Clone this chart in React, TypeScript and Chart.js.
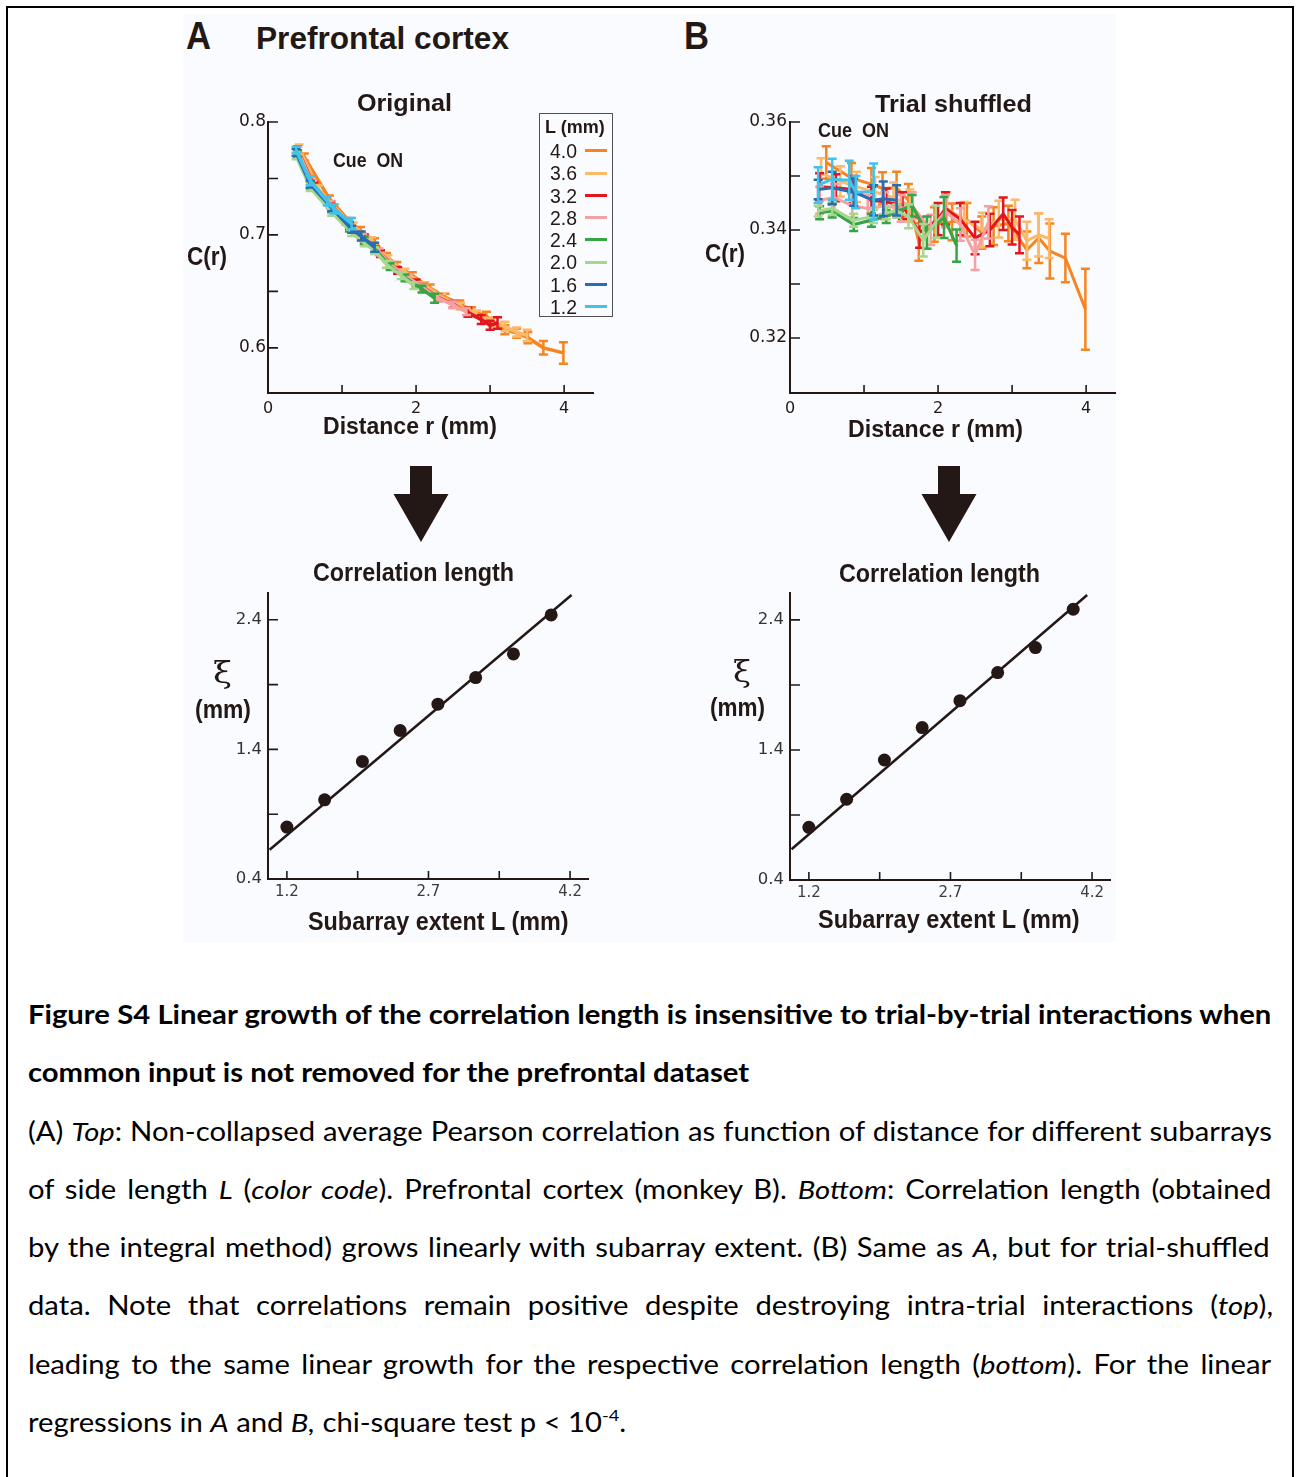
import React, { useEffect, useRef } from 'react';
import { Chart, registerables } from 'chart.js';

Chart.register(...registerables);

const INK = '#231815';
const TITLE_FONT = "'Liberation Sans Narrow', 'Liberation Sans', Arial, sans-serif";
const TICK_FONT = "'DejaVu Sans', 'Liberation Sans', sans-serif";
const CAPTION_FONT = "Lato, 'Open Sans', sans-serif";

// ---------- Top panels: C(r) vs distance r, one series per subarray extent L ----------
const subarrayLabels = ['4.0', '3.6', '3.2', '2.8', '2.4', '2.0', '1.6', '1.2'];
const subarrayColors = ['#f6841f', '#fbb96c', '#e3161d', '#f4a1a1', '#34a643', '#a8d68c', '#2a6cb2', '#3fc3ea'];

// distances r (mm) for each L
const rL40 = [0.49, 0.83, 1.1, 1.25, 1.44, 1.6, 1.74, 1.95, 2.19, 2.39, 2.59, 2.75, 2.95, 3.2, 3.36, 3.51, 3.72, 3.99];
const rL36 = [0.42, 0.68, 0.9, 1.15, 1.4, 1.62, 1.85, 2.12, 2.35, 2.6, 2.82, 3.04, 3.2, 3.36, 3.5];
const rL32 = [0.4, 0.62, 0.85, 1.1, 1.3, 1.52, 1.75, 2.0, 2.1, 2.3, 2.5, 2.7, 2.88, 3.0, 3.1];
const rL28 = [0.4, 0.6, 0.84, 1.05, 1.28, 1.5, 1.65, 1.9, 2.1, 2.3, 2.5, 2.68];
const rL24 = [0.4, 0.57, 0.86, 1.1, 1.3, 1.45, 1.65, 1.85, 2.08, 2.25];
const rL20 = [0.38, 0.57, 0.86, 1.13, 1.3, 1.44, 1.6, 1.8, 1.97];
const rL16 = [0.38, 0.57, 0.86, 1.13, 1.26, 1.44];
const rL12 = [0.38, 0.57, 0.8, 0.89, 1.13];

// Original data: C(r) and error
const cOrig40 = [0.769, 0.732, 0.712, 0.704, 0.694, 0.681, 0.673, 0.664, 0.653, 0.645, 0.639, 0.633, 0.628, 0.616, 0.613, 0.609, 0.600, 0.5955];
const eOrig40 = [0.003, 0.003, 0.003, 0.003, 0.003, 0.003, 0.003, 0.003, 0.003, 0.003, 0.003, 0.003, 0.004, 0.004, 0.004, 0.005, 0.006, 0.0095];
const cOrig36 = [0.776, 0.741, 0.724, 0.708, 0.695, 0.679, 0.667, 0.655, 0.645, 0.637, 0.630, 0.623, 0.619, 0.614, 0.611];
const eOrig36 = [0.004, 0.003, 0.003, 0.003, 0.003, 0.003, 0.003, 0.003, 0.003, 0.003, 0.003, 0.004, 0.004, 0.004, 0.005];
const cOrig32 = [0.7755, 0.7435, 0.7265, 0.7085, 0.6975, 0.6835, 0.6685, 0.6575, 0.6535, 0.6445, 0.6385, 0.6315, 0.625, 0.620, 0.622];
const eOrig32 = [0.003, 0.003, 0.003, 0.003, 0.003, 0.003, 0.003, 0.003, 0.003, 0.003, 0.003, 0.004, 0.004, 0.004, 0.005];
const cOrig28 = [0.775, 0.745, 0.727, 0.712, 0.698, 0.685, 0.674, 0.662, 0.653, 0.644, 0.638, 0.632];
const eOrig28 = [0.003, 0.003, 0.003, 0.003, 0.003, 0.003, 0.003, 0.003, 0.003, 0.003, 0.003, 0.003];
const cOrig24 = [0.772, 0.744, 0.723, 0.706, 0.695, 0.687, 0.672, 0.662, 0.652, 0.644];
const eOrig24 = [0.003, 0.003, 0.003, 0.003, 0.003, 0.003, 0.003, 0.003, 0.003, 0.004];
const cOrig20 = [0.770, 0.742, 0.720, 0.702, 0.693, 0.686, 0.674, 0.664, 0.655];
const eOrig20 = [0.003, 0.003, 0.003, 0.003, 0.003, 0.003, 0.003, 0.003, 0.003];
const cOrig16 = [0.773, 0.745, 0.724, 0.705, 0.699, 0.689];
const eOrig16 = [0.003, 0.003, 0.003, 0.003, 0.004, 0.004];
const cOrig12 = [0.775, 0.748, 0.730, 0.723, 0.710];
const eOrig12 = [0.003, 0.004, 0.004, 0.004, 0.005];

// Trial-shuffled data: C(r) and error
const cShuf40 = [0.3525, 0.3496, 0.3485, 0.3477, 0.3478, 0.3455, 0.3378, 0.3410, 0.3415, 0.3419, 0.3395, 0.3407, 0.3412, 0.3363, 0.3385, 0.3361, 0.3348, 0.3253];
const eShuf40 = [0.0030, 0.0028, 0.0030, 0.0030, 0.0030, 0.0030, 0.0035, 0.0032, 0.0034, 0.0031, 0.0030, 0.0035, 0.0033, 0.0034, 0.0046, 0.0051, 0.0045, 0.0075];
const cShuf36 = [0.3505, 0.3490, 0.3480, 0.3470, 0.3460, 0.3445, 0.3395, 0.3440, 0.3420, 0.3400, 0.3420, 0.3419, 0.3380, 0.3391, 0.3384];
const eShuf36 = [0.0028, 0.0028, 0.0028, 0.0028, 0.0028, 0.0030, 0.0030, 0.0030, 0.0032, 0.0032, 0.0034, 0.0037, 0.0035, 0.0040, 0.0036];
const cShuf32 = [0.3480, 0.3478, 0.3475, 0.3455, 0.3452, 0.3445, 0.3395, 0.3420, 0.3440, 0.3420, 0.3385, 0.3400, 0.3430, 0.3405, 0.3391];
const eShuf32 = [0.0025, 0.0025, 0.0025, 0.0025, 0.0025, 0.0025, 0.0028, 0.0030, 0.0030, 0.0030, 0.0030, 0.0030, 0.0030, 0.0032, 0.0034];
const cShuf28 = [0.3455, 0.3460, 0.3445, 0.3440, 0.3445, 0.3440, 0.3445, 0.3400, 0.3435, 0.3410, 0.3354, 0.3414];
const eShuf28 = [0.0025, 0.0025, 0.0025, 0.0025, 0.0025, 0.0025, 0.0025, 0.0028, 0.0030, 0.0030, 0.0028, 0.0030];
const cShuf24 = [0.3432, 0.3435, 0.3410, 0.3418, 0.3425, 0.3435, 0.3445, 0.3395, 0.3423, 0.3371];
const eShuf24 = [0.0012, 0.0012, 0.0012, 0.0012, 0.0012, 0.0012, 0.0020, 0.0030, 0.0038, 0.0030];
const cShuf20 = [0.3435, 0.3440, 0.3418, 0.3425, 0.3432, 0.3435, 0.3425, 0.3381, 0.3415];
const eShuf20 = [0.0010, 0.0012, 0.0012, 0.0012, 0.0012, 0.0012, 0.0022, 0.0030, 0.0030];
const cShuf16 = [0.3475, 0.3478, 0.3470, 0.3455, 0.3458, 0.3455];
const eShuf16 = [0.0018, 0.0030, 0.0025, 0.0028, 0.0032, 0.0028];
const cShuf12 = [0.3483, 0.3494, 0.3492, 0.3470, 0.3471];
const eShuf12 = [0.0033, 0.0038, 0.0036, 0.0030, 0.0052];

const distances = [rL40, rL36, rL32, rL28, rL24, rL20, rL16, rL12];
const origValues = [cOrig40, cOrig36, cOrig32, cOrig28, cOrig24, cOrig20, cOrig16, cOrig12];
const origErrors = [eOrig40, eOrig36, eOrig32, eOrig28, eOrig24, eOrig20, eOrig16, eOrig12];
const shufValues = [cShuf40, cShuf36, cShuf32, cShuf28, cShuf24, cShuf20, cShuf16, cShuf12];
const shufErrors = [eShuf40, eShuf36, eShuf32, eShuf28, eShuf24, eShuf20, eShuf16, eShuf12];

const xTicksTop = [0, 1, 2, 3, 4];
const xLabelsTop = ['0', '', '2', '', '4'];
const yTicksOrig = [0.6, 0.65, 0.7, 0.75, 0.8];
const yLabelsOrig = ['0.6', '', '0.7', '', '0.8'];
const yTicksShuf = [0.32, 0.33, 0.34, 0.35, 0.36];
const yLabelsShuf = ['0.32', '', '0.34', '', '0.36'];

// ---------- Bottom panels: correlation length xi vs subarray extent L ----------
const extentL = [1.2, 1.6, 2.0, 2.4, 2.8, 3.2, 3.6, 4.0];
const xiOrig = [0.801, 1.011, 1.307, 1.546, 1.749, 1.954, 2.137, 2.438];
const xiShuf = [0.805, 1.021, 1.323, 1.572, 1.779, 1.995, 2.187, 2.482];
const fitOrigL = [1.017, 4.216];
const fitOrigXi = [0.626, 2.592];
const fitShufL = [1.016, 4.148];
const fitShufXi = [0.636, 2.592];
const xTicksBottom = [1.2, 1.95, 2.7, 3.45, 4.2];
const xLabelsBottom = ['1.2', '', '2.7', '', '4.2'];
const yTicksBottom = [0.4, 0.9, 1.4, 1.9, 2.4];
const yLabelsBottom = ['0.4', '', '1.4', '', '2.4'];

// ---------- plugins ----------
const inwardTicks = (xLen: number, yLen: number) => ({
  id: 'inwardTicks',
  beforeDatasetsDraw(chart: any) {
    const { ctx, chartArea } = chart;
    const xs = chart.scales.x;
    const ys = chart.scales.y;
    ctx.save();
    ctx.strokeStyle = INK;
    ctx.lineWidth = 1.6;
    ctx.beginPath();
    xs.ticks.forEach((t: any) => {
      const p = xs.getPixelForValue(t.value);
      if (p - chartArea.left < 2) return;
      ctx.moveTo(p, chartArea.bottom);
      ctx.lineTo(p, chartArea.bottom - xLen);
    });
    ys.ticks.forEach((t: any) => {
      const p = ys.getPixelForValue(t.value);
      if (chartArea.bottom - p < 2) return;
      ctx.moveTo(chartArea.left, p);
      ctx.lineTo(chartArea.left + yLen, p);
    });
    ctx.stroke();
    ctx.restore();
  },
});

const errorBars = (cap: number, width: number) => ({
  id: 'errorBars',
  afterDatasetDraw(chart: any, args: any) {
    const ds = chart.data.datasets[args.index];
    if (!ds.errors) return;
    const { ctx } = chart;
    const xs = chart.scales.x;
    const ys = chart.scales.y;
    ctx.save();
    ctx.strokeStyle = ds.borderColor;
    ctx.lineWidth = width;
    ctx.lineCap = 'butt';
    ctx.beginPath();
    ds.data.forEach((p: any, k: number) => {
      const x = xs.getPixelForValue(p.x);
      const yl = ys.getPixelForValue(p.y - ds.errors[k]);
      const yh = ys.getPixelForValue(p.y + ds.errors[k]);
      ctx.moveTo(x, yl);
      ctx.lineTo(x, yh);
      ctx.moveTo(x - cap, yl);
      ctx.lineTo(x + cap, yl);
      ctx.moveTo(x - cap, yh);
      ctx.lineTo(x + cap, yh);
    });
    ctx.stroke();
    ctx.restore();
  },
});

function axisOpts(min: number, max: number, ticks: number[], labels: string[], fit: (s: any) => void, pad: number, size: number, color: string) {
  return {
    type: 'linear',
    min,
    max,
    grid: { display: false, drawTicks: false },
    border: { display: true, color: INK, width: 2 },
    afterBuildTicks: (s: any) => {
      s.ticks = ticks.map((v) => ({ value: v }));
    },
    afterFit: fit,
    ticks: {
      autoSkip: false,
      maxRotation: 0,
      padding: pad,
      color,
      font: { family: TICK_FONT, size },
      callback: (_v: any, i: number) => labels[i],
    },
  };
}

function topConfig(values: number[][], errors: number[][], yMin: number, yMax: number, yTicks: number[], yLabels: string[], lineW: number, yPad: number) {
  const order = [7, 6, 5, 4, 3, 2, 1, 0]; // L = 1.2 drawn on top
  const datasets = order.map((i) => ({
    label: subarrayLabels[i],
    data: distances[i].map((r, k) => ({ x: r, y: values[i][k] })),
    errors: errors[i],
    borderColor: subarrayColors[i],
    backgroundColor: subarrayColors[i],
    borderWidth: lineW,
    pointRadius: 0,
    tension: 0,
  }));
  return {
    type: 'line',
    data: { datasets },
    options: {
      animation: false,
      responsive: false,
      maintainAspectRatio: false,
      layout: { padding: { top: 22, right: 27, left: 0, bottom: 0 } },
      plugins: { legend: { display: false }, tooltip: { enabled: false } },
      scales: {
        x: axisOpts(0, 4.39, xTicksTop, xLabelsTop, (s: any) => { s.height = 47; }, 6, 16, INK),
        y: axisOpts(yMin, yMax, yTicks, yLabels, (s: any) => { s.width = 78; }, yPad, 17, INK),
      },
    },
    plugins: [inwardTicks(8, 10), errorBars(4.5, 2.5)],
  };
}

function bottomConfig(xi: number[], fitL: number[], fitXi: number[], xH: number) {
  return {
    type: 'line',
    data: {
      datasets: [
        {
          label: 'xi',
          data: extentL.map((l, k) => ({ x: l, y: xi[k] })),
          showLine: false,
          pointRadius: 6.5,
          pointBackgroundColor: INK,
          pointBorderWidth: 0,
          borderColor: INK,
        },
        {
          label: 'fit',
          data: fitL.map((l, k) => ({ x: l, y: fitXi[k] })),
          borderColor: INK,
          borderWidth: 2.5,
          pointRadius: 0,
          tension: 0,
        },
      ],
    },
    options: {
      animation: false,
      responsive: false,
      maintainAspectRatio: false,
      layout: { padding: { top: 18, right: 22, left: 0, bottom: 0 } },
      plugins: { legend: { display: false }, tooltip: { enabled: false } },
      scales: {
        x: axisOpts(1.0, 4.39, xTicksBottom, xLabelsBottom, (s: any) => { s.height = xH; }, 4, 15, '#3c3c3c'),
        y: axisOpts(0.4, 2.607, yTicksBottom, yLabelsBottom, (s: any) => { s.width = 78; }, 6, 16.5, '#333333'),
      },
    },
    plugins: [inwardTicks(8, 10)],
  };
}

// ---------- text helpers ----------
let measureCtx: CanvasRenderingContext2D | null = null;
function textWidth(text: string, font: string) {
  if (!measureCtx) measureCtx = document.createElement('canvas').getContext('2d');
  measureCtx!.font = font;
  return measureCtx!.measureText(text).width;
}

function FitText(props: { text: string; x1: number; x2: number; cy: number; size: number; weight?: string; family?: string; color?: string; k?: number }) {
  const { text, x1, x2, cy, size, weight = 'bold', family = TITLE_FONT, color = INK, k = 0.4885 } = props;
  const w = textWidth(text, `${weight} ${size}px ${family}`);
  const sx = (x2 - x1) / w;
  return (
    <div
      style={{
        position: 'absolute',
        left: x1,
        top: cy - k * size,
        height: size,
        fontFamily: family,
        fontSize: size,
        fontWeight: weight as any,
        lineHeight: `${size}px`,
        whiteSpace: 'pre',
        color,
        transform: `scaleX(${sx})`,
        transformOrigin: '0 50%',
      }}
    >
      {text}
    </div>
  );
}

function Legend() {
  return (
    <>
      <div style={{ position: 'absolute', left: 539, top: 113, width: 74, height: 204, boxSizing: 'border-box', border: '1.5px solid #505050' }} />
      <FitText text="L (mm)" x1={545} x2={605} cy={126.5} size={19} />
      {subarrayLabels.map((lab, i) => (
        <React.Fragment key={lab}>
          <FitText text={lab} x1={550} x2={577} cy={150.7 + i * 22.3} size={20} weight="normal" family="'Liberation Sans', Arial, sans-serif" />
          <div style={{ position: 'absolute', left: 585, top: 150.7 + i * 22.3 - 1.5, width: 22, height: 3, background: subarrayColors[i] }} />
        </React.Fragment>
      ))}
    </>
  );
}

type Seg = { t: string; i?: boolean; sup?: boolean };
const captionLines: { segs: Seg[]; bold: boolean; justify: boolean }[] = [
  { bold: true, justify: true, segs: [{ t: 'Figure S4 Linear growth of the correlation length is insensitive to trial-by-trial interactions when' }] },
  { bold: true, justify: false, segs: [{ t: 'common input is not removed for the prefrontal dataset' }] },
  { bold: false, justify: true, segs: [{ t: '(A) ' }, { t: 'Top', i: true }, { t: ': Non-collapsed average Pearson correlation as function of distance for different subarrays' }] },
  { bold: false, justify: true, segs: [{ t: 'of side length ' }, { t: 'L', i: true }, { t: ' (' }, { t: 'color code', i: true }, { t: '). Prefrontal cortex (monkey B). ' }, { t: 'Bottom', i: true }, { t: ': Correlation length (obtained' }] },
  { bold: false, justify: true, segs: [{ t: 'by the integral method) grows linearly with subarray extent. (B) Same as ' }, { t: 'A', i: true }, { t: ', but for trial-shuffled' }] },
  { bold: false, justify: true, segs: [{ t: 'data. Note that correlations remain positive despite destroying intra-trial interactions (' }, { t: 'top', i: true }, { t: '),' }] },
  { bold: false, justify: true, segs: [{ t: 'leading to the same linear growth for the respective correlation length (' }, { t: 'bottom', i: true }, { t: '). For the linear' }] },
  { bold: false, justify: false, segs: [{ t: 'regressions in ' }, { t: 'A', i: true }, { t: ' and ' }, { t: 'B,', i: true }, { t: ' chi-square test p < 10' }, { t: '-4', sup: true }, { t: '.' }] },
];

const CAP_SIZE = 26;
const CAP_LEFT = 28;
const CAP_WIDTH = 1245;

function segsWidth(segs: Seg[], bold: boolean) {
  let w = 0;
  segs.forEach((s) => {
    const sz = s.sup ? CAP_SIZE * 0.62 : CAP_SIZE;
    w += textWidth(s.t, `${s.i ? 'italic' : 'normal'} ${bold ? 'bold' : 'normal'} ${sz}px ${CAPTION_FONT}`);
  });
  return w;
}

function CaptionLine({ segs, bold, justify, baseline, sx }: { segs: Seg[]; bold: boolean; justify: boolean; baseline: number; sx: number }) {
  const size = CAP_SIZE;
  const w = segsWidth(segs, bold);
  let spaces = 0;
  segs.forEach((s) => { spaces += (s.t.match(/ /g) || []).length; });
  const avail = CAP_WIDTH / sx;
  let ws = 0;
  let scale = sx;
  if (w > avail) scale = CAP_WIDTH / w;
  else if (justify && spaces) ws = (avail - w) / spaces;
  return (
    <div
      style={{
        position: 'absolute',
        left: CAP_LEFT,
        top: baseline - 0.887 * size,
        whiteSpace: 'pre',
        fontFamily: CAPTION_FONT,
        fontSize: size,
        lineHeight: `${size}px`,
        fontWeight: bold ? 700 : 400,
        wordSpacing: ws,
        color: '#000',
        transform: `scaleX(${scale})`,
        transformOrigin: '0 50%',
      }}
    >
      {segs.map((s, k) =>
        s.sup ? (
          <span key={k} style={{ fontSize: size * 0.62, position: 'relative', top: -size * 0.42 }}>{s.t}</span>
        ) : s.i ? (
          <i key={k}>{s.t}</i>
        ) : (
          <span key={k}>{s.t}</span>
        )
      )}
    </div>
  );
}

function arrowPoints(cx: number) {
  const pts = [
    [cx - 11, 466], [cx + 11, 466], [cx + 11, 494], [cx + 27.5, 494],
    [cx, 542], [cx - 27.5, 494], [cx - 11, 494],
  ];
  return pts.map((p) => p.join(',')).join(' ');
}

export default function App() {
  const tl = useRef<HTMLCanvasElement>(null);
  const tr = useRef<HTMLCanvasElement>(null);
  const bl = useRef<HTMLCanvasElement>(null);
  const br = useRef<HTMLCanvasElement>(null);

  useEffect(() => {
    const charts = [
      new Chart(tl.current as any, topConfig(origValues, origErrors, 0.56, 0.8, yTicksOrig, yLabelsOrig, 3.5, 2) as any),
      new Chart(tr.current as any, topConfig(shufValues, shufErrors, 0.3098, 0.36, yTicksShuf, yLabelsShuf, 3, 3) as any),
      new Chart(bl.current as any, bottomConfig(xiOrig, fitOrigL, fitOrigXi, 36) as any),
      new Chart(br.current as any, bottomConfig(xiShuf, fitShufL, fitShufXi, 35) as any),
    ];
    return () => charts.forEach((c) => c.destroy());
  }, []);

  // horizontal scale so that the first (bold, full) caption line fills the text width
  const capScale = (CAP_WIDTH - 2) / segsWidth(captionLines[0].segs, true);

  const canvasStyle = (left: number, top: number, w: number, h: number) => ({ position: 'absolute' as const, left, top, width: w, height: h });

  return (
    <div style={{ position: 'absolute', left: 0, top: 0, width: 1297, height: 1477, overflow: 'hidden', background: '#ffffff' }}>
      <div style={{ position: 'absolute', left: 183, top: 14, width: 933, height: 928, background: '#f9fbfe' }} />
      <div style={{ position: 'absolute', left: 6, top: 6, width: 1288, height: 1540, border: '2.5px solid #000', boxSizing: 'border-box' }} />

      <svg width={1297} height={1477} style={{ position: 'absolute', left: 0, top: 0 }}>
        <polygon points={arrowPoints(421)} fill={INK} />
        <polygon points={arrowPoints(949)} fill={INK} />
      </svg>

      <canvas ref={tl} width={430} height={340} style={canvasStyle(190, 100, 430, 340)} />
      <canvas ref={tr} width={430} height={340} style={canvasStyle(712, 100, 430, 340)} />
      <canvas ref={bl} width={420} height={340} style={canvasStyle(190, 575, 420, 340)} />
      <canvas ref={br} width={420} height={340} style={canvasStyle(712, 575, 420, 340)} />

      <FitText text="A" x1={186} x2={211} cy={36} size={38} family="'Liberation Sans', Arial, sans-serif" />
      <FitText text="Prefrontal cortex" x1={256} x2={509} cy={38.5} size={31} />
      <FitText text="B" x1={684} x2={709} cy={36} size={38} family="'Liberation Sans', Arial, sans-serif" />

      <FitText text="Original" x1={357} x2={452} cy={103} size={24} />
      <FitText text="Trial shuffled" x1={875} x2={1032} cy={104} size={24} />
      <FitText text="C(r)" x1={187} x2={227} cy={256} size={26} />
      <FitText text="C(r)" x1={705} x2={745} cy={253} size={26} />
      <FitText text="Cue  ON" x1={333} x2={403} cy={159.5} size={21} />
      <FitText text="Cue  ON" x1={818} x2={889} cy={129.5} size={21} />
      <FitText text="Distance r (mm)" x1={323} x2={497} cy={425.5} size={24} />
      <FitText text="Distance r (mm)" x1={848} x2={1023} cy={428.5} size={24} />
      <Legend />

      <FitText text="Correlation length" x1={313} x2={514} cy={572} size={25} />
      <FitText text="Correlation length" x1={839} x2={1040} cy={573} size={25} />
      <FitText text="ξ" x1={213} x2={232} cy={676} size={30} weight="normal" family="'DejaVu Serif', 'Liberation Serif', serif" k={0.6} />
      <FitText text="(mm)" x1={195} x2={251} cy={709} size={26} />
      <FitText text="ξ" x1={733} x2={751} cy={675} size={30} weight="normal" family="'DejaVu Serif', 'Liberation Serif', serif" k={0.6} />
      <FitText text="(mm)" x1={710} x2={765} cy={707} size={26} />
      <FitText text="Subarray extent L (mm)" x1={308} x2={569} cy={921} size={25} />
      <FitText text="Subarray extent L (mm)" x1={818} x2={1080} cy={919} size={25} />

      {captionLines.map((ln, k) => (
        <CaptionLine key={k} segs={ln.segs} bold={ln.bold} justify={ln.justify} baseline={1024 + k * 58.3} sx={capScale} />
      ))}
    </div>
  );
}
